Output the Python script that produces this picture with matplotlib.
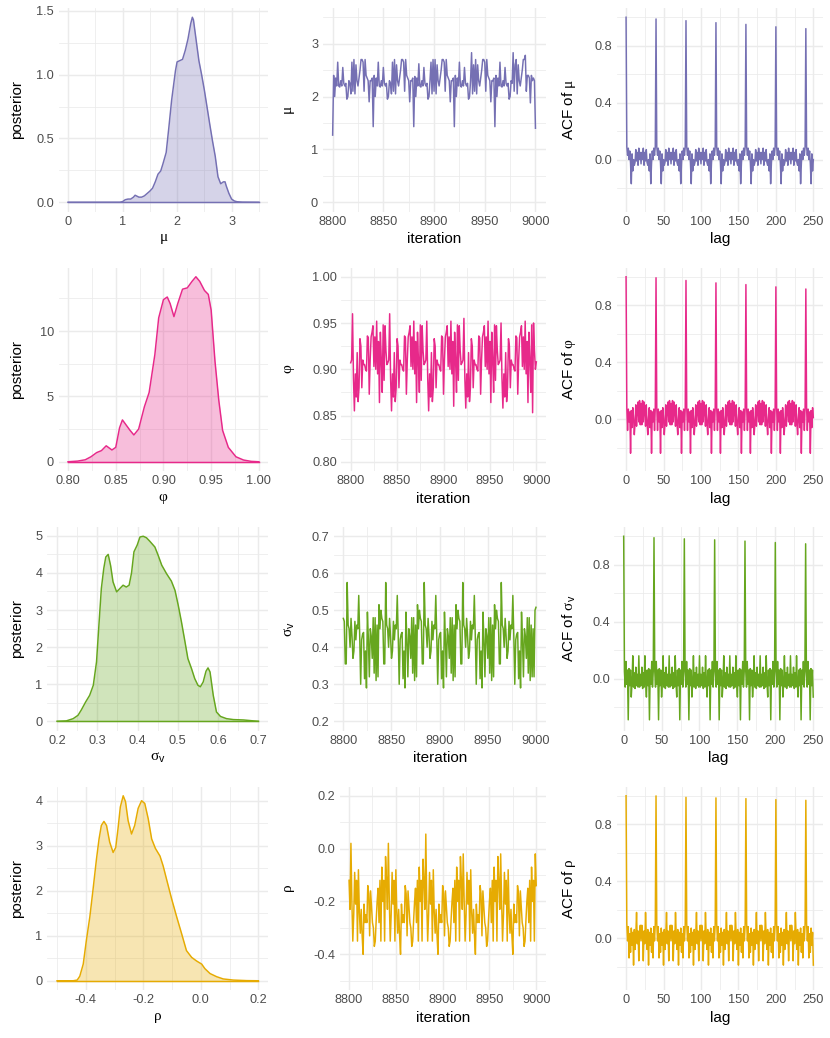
import numpy as np
import matplotlib
matplotlib.use("Agg")
import matplotlib.pyplot as plt
import matplotlib.transforms as mtransforms
from matplotlib.ticker import FixedLocator, AutoMinorLocator

plt.rcParams['font.family'] = ['Liberation Sans', 'DejaVu Sans']
plt.rcParams['mathtext.fontset'] = 'custom'
plt.rcParams['mathtext.rm'] = 'Liberation Serif'
plt.rcParams['mathtext.it'] = 'Liberation Serif'
plt.rcParams['mathtext.sf'] = 'Liberation Sans'
plt.rcParams['mathtext.default'] = 'rm'
plt.rcParams['axes.unicode_minus'] = False

# ---------------- data ----------------
iterations = list(range(8800, 9001))
lags = list(range(0, 251))

# posterior densities
mu_dens_x = [0.0, 0.5, 0.95, 1.0, 1.05, 1.1, 1.15, 1.2, 1.23, 1.3, 1.35, 1.4, 1.5, 1.55, 1.6, 1.65,
             1.7, 1.74, 1.8, 1.85, 1.9, 1.97, 2.0, 2.05, 2.1, 2.15, 2.2, 2.25, 2.28, 2.3, 2.35,
             2.4, 2.45, 2.5, 2.55, 2.6, 2.65, 2.7, 2.75, 2.8, 2.85, 2.88, 2.9, 2.95, 3.0, 3.05,
             3.1, 3.2, 3.5]
mu_dens_y = [0.0, 0.0, 0.0, 0.005, 0.02, 0.025, 0.025, 0.04, 0.055, 0.04, 0.04, 0.05, 0.087, 0.11,
             0.16, 0.22, 0.245, 0.30, 0.39, 0.59, 0.80, 1.03, 1.10, 1.11, 1.12, 1.19, 1.28, 1.40,
             1.45, 1.43, 1.27, 1.11, 1.00, 0.88, 0.745, 0.61, 0.48, 0.36, 0.20, 0.145, 0.16,
             0.16, 0.13, 0.07, 0.025, 0.01, 0.004, 0.001, 0.0]

phi_dens_x = [0.80, 0.81, 0.818, 0.824, 0.83, 0.835, 0.840, 0.846, 0.85, 0.854, 0.857, 0.86,
              0.865, 0.869, 0.874, 0.88, 0.885, 0.891, 0.895, 0.90, 0.904, 0.907, 0.911, 0.915,
              0.92, 0.925, 0.93, 0.934, 0.938, 0.943, 0.947, 0.95, 0.954, 0.958, 0.962, 0.968,
              0.976, 0.984, 0.992, 1.00]
phi_dens_y = [0.0, 0.05, 0.15, 0.38, 0.7, 0.85, 1.22, 0.9, 1.1, 2.6, 3.2, 2.9, 2.4, 2.05, 2.5,
              4.2, 5.3, 8.2, 11.0, 12.4, 12.6, 12.1, 11.1, 12.1, 13.2, 13.3, 13.8, 14.15, 13.8,
              13.1, 12.8, 11.6, 7.7, 4.7, 2.4, 1.1, 0.38, 0.13, 0.03, 0.0]

sig_dens_x = [0.2, 0.223, 0.24, 0.252, 0.26, 0.271, 0.281, 0.29, 0.298, 0.304, 0.31, 0.316,
              0.321, 0.327, 0.333, 0.339, 0.348, 0.356, 0.364, 0.372, 0.379, 0.385, 0.391,
              0.399, 0.406, 0.414, 0.422, 0.43, 0.443, 0.451, 0.46, 0.472, 0.484, 0.493, 0.501,
              0.509, 0.517, 0.525, 0.534, 0.542, 0.55, 0.556, 0.563, 0.57, 0.575, 0.58, 0.588,
              0.596, 0.606, 0.621, 0.638, 0.663, 0.688, 0.7]
sig_dens_y = [0.0, 0.01, 0.07, 0.16, 0.3, 0.52, 0.7, 0.97, 1.6, 2.6, 3.58, 4.12, 4.43, 4.5,
              4.2, 3.76, 3.49, 3.58, 3.67, 3.62, 3.67, 4.0, 4.57, 4.75, 4.97, 4.99, 4.95, 4.86,
              4.7, 4.48, 4.21, 3.98, 3.78, 3.53, 3.13, 2.68, 2.19, 1.69, 1.42, 1.15, 0.97, 0.93,
              1.06, 1.35, 1.44, 1.33, 0.7, 0.25, 0.13, 0.07, 0.045, 0.035, 0.01, 0.0]

rho_dens_x = [-0.5, -0.444, -0.43, -0.421, -0.409, -0.398, -0.386, -0.375, -0.363, -0.354,
              -0.346, -0.337, -0.328, -0.317, -0.305, -0.296, -0.288, -0.28, -0.27, -0.262,
              -0.253, -0.241, -0.23, -0.218, -0.206, -0.195, -0.183, -0.171, -0.158, -0.142,
              -0.131, -0.119, -0.102, -0.084, -0.067, -0.05, -0.032, -0.015, 0.003, 0.014,
              0.032, 0.055, 0.078, 0.113, 0.16, 0.2]
rho_dens_y = [0.0, 0.0, 0.015, 0.1, 0.37, 0.9, 1.42, 2.02, 2.7, 3.15, 3.45, 3.54, 3.45, 3.08,
              2.85, 2.96, 3.38, 3.86, 4.11, 3.98, 3.56, 3.26, 3.45, 3.83, 4.0, 3.94, 3.6, 3.15,
              2.94, 2.77, 2.55, 2.25, 1.83, 1.42, 1.05, 0.67, 0.52, 0.44, 0.37, 0.27, 0.16, 0.09,
              0.04, 0.015, 0.003, 0.0]

# trace of the last 201 iterations
mu_trace = [
    1.27, 2.40, 2.00, 2.35, 2.20, 2.65, 2.20, 2.18, 2.30, 2.20, 2.55, 2.25, 2.20, 2.25, 1.95, 2.00, 2.30, 2.25, 2.05, 2.65,
    2.10, 2.70, 2.05, 2.60, 2.30, 2.20, 2.35, 2.50, 2.70, 2.70, 2.65, 2.10, 2.70, 2.40, 2.35, 2.30, 1.90, 2.30, 2.30, 2.35,
    1.43, 2.40, 2.00, 2.35, 2.20, 2.65, 2.20, 2.18, 2.30, 2.20, 2.55, 2.25, 2.20, 2.25, 1.95, 2.00, 2.30, 2.25, 2.05, 2.65,
    2.10, 2.70, 2.05, 2.60, 2.30, 2.20, 2.35, 2.50, 2.70, 2.70, 2.65, 2.10, 2.70, 2.40, 2.35, 2.30, 1.90, 2.30, 2.30, 2.35,
    1.43, 2.38, 2.00, 2.35, 2.20, 2.62, 2.20, 2.18, 2.30, 2.20, 2.55, 2.25, 2.20, 2.25, 1.95, 2.00, 2.30, 2.65, 2.05, 2.70,
    2.10, 2.70, 2.05, 2.60, 2.30, 2.20, 2.35, 2.50, 2.70, 2.70, 2.65, 2.10, 2.70, 2.40, 2.35, 2.30, 1.90, 2.30, 2.30, 2.35,
    1.43, 2.40, 2.00, 2.35, 2.20, 2.65, 2.20, 2.18, 2.30, 2.20, 2.55, 2.25, 2.20, 2.25, 1.95, 2.00, 2.30, 2.83, 2.05, 2.60,
    2.10, 2.70, 2.05, 2.60, 2.30, 2.20, 2.35, 2.50, 2.70, 2.70, 2.65, 2.10, 2.70, 2.40, 2.35, 2.30, 1.90, 2.30, 2.30, 2.35,
    1.43, 2.40, 2.00, 2.35, 2.20, 2.65, 2.20, 2.18, 2.30, 2.20, 2.55, 2.25, 2.20, 2.25, 1.95, 2.00, 2.30, 2.25, 2.83, 2.10,
    2.60, 2.70, 2.05, 2.60, 2.30, 2.20, 2.35, 2.50, 2.70, 2.70, 2.78, 2.10, 2.40, 2.40, 2.35, 1.88, 2.40, 2.30, 2.35, 2.30,
    1.40]

phi_trace = [
    0.907, 0.910, 0.960, 0.890, 0.855, 0.895, 0.870, 0.918, 0.865, 0.880, 0.933, 0.925, 0.880, 0.910, 0.905, 0.905, 0.900, 0.898, 0.936, 0.934,
    0.873, 0.910, 0.935, 0.940, 0.947, 0.903, 0.935, 0.900, 0.952, 0.895, 0.930, 0.864, 0.940, 0.910, 0.875, 0.948, 0.888, 0.947, 0.920, 0.905,
    0.907, 0.910, 0.960, 0.890, 0.855, 0.895, 0.870, 0.918, 0.865, 0.880, 0.933, 0.925, 0.880, 0.910, 0.905, 0.905, 0.900, 0.898, 0.936, 0.934,
    0.873, 0.910, 0.935, 0.940, 0.947, 0.903, 0.935, 0.900, 0.952, 0.895, 0.930, 0.864, 0.940, 0.910, 0.875, 0.948, 0.888, 0.947, 0.920, 0.905,
    0.907, 0.910, 0.952, 0.890, 0.855, 0.895, 0.870, 0.918, 0.865, 0.880, 0.933, 0.925, 0.880, 0.910, 0.905, 0.905, 0.900, 0.898, 0.936, 0.934,
    0.873, 0.910, 0.935, 0.940, 0.947, 0.903, 0.935, 0.900, 0.952, 0.895, 0.930, 0.860, 0.940, 0.910, 0.875, 0.948, 0.888, 0.947, 0.920, 0.905,
    0.907, 0.910, 0.955, 0.890, 0.858, 0.895, 0.870, 0.918, 0.865, 0.880, 0.933, 0.925, 0.880, 0.910, 0.905, 0.905, 0.900, 0.898, 0.936, 0.934,
    0.873, 0.910, 0.935, 0.940, 0.947, 0.903, 0.935, 0.900, 0.952, 0.895, 0.930, 0.864, 0.940, 0.910, 0.875, 0.948, 0.888, 0.947, 0.920, 0.905,
    0.907, 0.910, 0.950, 0.890, 0.858, 0.895, 0.870, 0.918, 0.865, 0.880, 0.933, 0.925, 0.880, 0.910, 0.905, 0.905, 0.900, 0.898, 0.936, 0.934,
    0.873, 0.910, 0.935, 0.940, 0.947, 0.903, 0.935, 0.900, 0.952, 0.895, 0.930, 0.864, 0.940, 0.910, 0.875, 0.948, 0.853, 0.950, 0.920, 0.900,
    0.908]

sig_trace = [
    0.478, 0.470, 0.355, 0.355, 0.575, 0.460, 0.450, 0.400, 0.478, 0.430, 0.370, 0.390, 0.470, 0.420, 0.460, 0.450, 0.540, 0.430, 0.300, 0.420,
    0.435, 0.440, 0.315, 0.390, 0.290, 0.495, 0.420, 0.320, 0.450, 0.430, 0.370, 0.480, 0.330, 0.480, 0.310, 0.460, 0.320, 0.515, 0.450, 0.500,
    0.478, 0.470, 0.355, 0.355, 0.575, 0.460, 0.450, 0.400, 0.478, 0.430, 0.370, 0.390, 0.470, 0.420, 0.460, 0.450, 0.540, 0.430, 0.300, 0.420,
    0.435, 0.440, 0.315, 0.390, 0.290, 0.495, 0.420, 0.320, 0.450, 0.430, 0.370, 0.480, 0.330, 0.480, 0.310, 0.460, 0.320, 0.515, 0.450, 0.500,
    0.478, 0.470, 0.355, 0.355, 0.575, 0.460, 0.450, 0.400, 0.478, 0.430, 0.370, 0.390, 0.470, 0.420, 0.460, 0.450, 0.540, 0.430, 0.300, 0.420,
    0.435, 0.440, 0.315, 0.390, 0.290, 0.495, 0.420, 0.320, 0.450, 0.430, 0.370, 0.480, 0.330, 0.480, 0.310, 0.460, 0.320, 0.515, 0.450, 0.500,
    0.478, 0.470, 0.355, 0.355, 0.575, 0.460, 0.450, 0.400, 0.478, 0.430, 0.370, 0.390, 0.470, 0.420, 0.460, 0.450, 0.540, 0.430, 0.300, 0.420,
    0.435, 0.440, 0.315, 0.390, 0.290, 0.495, 0.420, 0.320, 0.450, 0.430, 0.370, 0.480, 0.330, 0.480, 0.310, 0.460, 0.320, 0.515, 0.450, 0.500,
    0.478, 0.470, 0.355, 0.355, 0.575, 0.460, 0.450, 0.400, 0.478, 0.430, 0.370, 0.390, 0.470, 0.420, 0.460, 0.450, 0.540, 0.430, 0.300, 0.420,
    0.435, 0.440, 0.315, 0.390, 0.290, 0.495, 0.420, 0.320, 0.450, 0.430, 0.370, 0.480, 0.330, 0.480, 0.310, 0.460, 0.320, 0.450, 0.320, 0.500,
    0.508]

rho_trace = [
    -0.12, -0.23, 0.02, -0.20, -0.35, -0.25, -0.09, -0.21, -0.12, -0.35, -0.08, -0.24, -0.32, -0.23, -0.33, -0.40, -0.21, -0.28, -0.25, -0.28,
    -0.14, -0.17, -0.33, -0.16, -0.22, -0.28, -0.30, -0.37, -0.35, -0.27, -0.20, -0.15, -0.28, -0.12, -0.35, -0.07, -0.20, -0.12, -0.35, -0.03,
    -0.12, -0.23, 0.02, -0.20, -0.35, -0.25, -0.09, -0.21, -0.12, -0.35, -0.08, -0.24, -0.32, -0.23, -0.33, -0.40, -0.21, -0.28, -0.25, -0.28,
    -0.14, -0.17, -0.33, -0.16, -0.22, -0.28, -0.30, -0.37, -0.35, -0.27, -0.20, -0.15, -0.28, -0.12, -0.35, -0.07, -0.20, -0.12, -0.35, -0.04,
    -0.12, -0.23, 0.055, -0.20, -0.35, -0.25, -0.09, -0.21, -0.12, -0.35, -0.08, -0.24, -0.32, -0.23, -0.33, -0.40, -0.21, -0.28, -0.25, -0.28,
    -0.14, -0.17, -0.33, -0.16, -0.22, -0.28, -0.30, -0.37, -0.35, -0.27, -0.20, -0.15, -0.28, -0.12, -0.35, -0.07, -0.20, -0.12, -0.35, -0.03,
    -0.12, -0.23, -0.02, -0.20, -0.35, -0.25, -0.09, -0.21, -0.12, -0.35, -0.08, -0.24, -0.32, -0.23, -0.33, -0.40, -0.21, -0.28, -0.25, -0.28,
    -0.14, -0.17, -0.33, -0.16, -0.22, -0.28, -0.30, -0.37, -0.35, -0.27, -0.20, -0.15, -0.28, -0.12, -0.35, -0.07, -0.20, -0.12, -0.35, -0.03,
    -0.12, -0.23, -0.02, -0.20, -0.35, -0.25, -0.09, -0.21, -0.12, -0.35, -0.08, -0.24, -0.32, -0.23, -0.33, -0.40, -0.21, -0.28, -0.25, -0.28,
    -0.14, -0.17, -0.33, -0.16, -0.22, -0.28, -0.30, -0.37, -0.35, -0.27, -0.20, -0.15, -0.28, -0.12, -0.35, -0.07, -0.20, -0.12, -0.35, -0.02,
    -0.14]

# autocorrelation, lags 0..250
mu_acf = [
    1.000, 0.09, 0.03, 0.08, 0.00, 0.06, -0.03, -0.17, 0.04, -0.08, 0.00, -0.04, -0.02, 0.07, -0.01, 0.05, -0.04, 0.08, 0.00, 0.05, -0.03, 0.05, 0.00, 0.08, -0.04, 0.05, -0.01, 0.07, -0.02, -0.04, 0.00, -0.08, 0.04, -0.17, -0.03, 0.06, 0.00, 0.08, 0.03, 0.09,
    0.988, 0.09, 0.03, 0.08, 0.00, 0.06, -0.03, -0.17, 0.04, -0.08, 0.00, -0.04, -0.02, 0.07, -0.01, 0.05, -0.04, 0.08, 0.00, 0.05, -0.03, 0.05, 0.00, 0.08, -0.04, 0.05, -0.01, 0.07, -0.02, -0.04, 0.00, -0.08, 0.04, -0.17, -0.03, 0.06, 0.00, 0.08, 0.03, 0.09,
    0.976, 0.09, 0.03, 0.08, 0.00, 0.06, -0.03, -0.17, 0.04, -0.08, 0.00, -0.04, -0.02, 0.07, -0.01, 0.05, -0.04, 0.08, 0.00, 0.05, -0.03, 0.05, 0.00, 0.08, -0.04, 0.05, -0.01, 0.07, -0.02, -0.04, 0.00, -0.08, 0.04, -0.17, -0.03, 0.06, 0.00, 0.08, 0.03, 0.09,
    0.962, 0.09, 0.03, 0.08, 0.00, 0.06, -0.03, -0.17, 0.04, -0.08, 0.00, -0.04, -0.02, 0.07, -0.01, 0.05, -0.04, 0.08, 0.00, 0.05, -0.03, 0.05, 0.00, 0.08, -0.04, 0.05, -0.01, 0.07, -0.02, -0.04, 0.00, -0.08, 0.04, -0.17, -0.03, 0.06, 0.00, 0.08, 0.03, 0.09,
    0.950, 0.09, 0.03, 0.08, 0.00, 0.06, -0.03, -0.17, 0.04, -0.08, 0.00, -0.04, -0.02, 0.07, -0.01, 0.05, -0.04, 0.08, 0.00, 0.05, -0.03, 0.05, 0.00, 0.08, -0.04, 0.05, -0.01, 0.07, -0.02, -0.04, 0.00, -0.08, 0.04, -0.17, -0.03, 0.06, 0.00, 0.08, 0.03, 0.09,
    0.933, 0.09, 0.03, 0.08, 0.00, 0.06, -0.03, -0.17, 0.04, -0.08, 0.00, -0.04, -0.02, 0.07, -0.01, 0.05, -0.04, 0.08, 0.00, 0.05, -0.03, 0.05, 0.00, 0.08, -0.04, 0.05, -0.01, 0.07, -0.02, -0.04, 0.00, -0.08, 0.04, -0.17, -0.03, 0.06, 0.00, 0.08, 0.03, 0.09,
    0.920, 0.09, 0.03, 0.08, 0.00, 0.06, -0.03, -0.17, 0.04, -0.08, 0.00]

phi_acf = [
    1.000, 0.08, -0.08, 0.07, -0.02, 0.05, -0.24, 0.06, -0.06, 0.08, 0.01, -0.11, -0.03, 0.10, -0.05, 0.06, 0.12, -0.02, 0.13, -0.04, 0.11, -0.04, 0.13, -0.02, 0.12, 0.06, -0.05, 0.10, -0.03, -0.11, 0.01, 0.08, -0.06, 0.06, -0.24, 0.05, -0.02, 0.07, -0.08, 0.08,
    0.993, 0.08, -0.08, 0.07, -0.02, 0.05, -0.24, 0.06, -0.06, 0.08, 0.01, -0.11, -0.03, 0.10, -0.05, 0.06, 0.12, -0.02, 0.13, -0.04, 0.11, -0.04, 0.13, -0.02, 0.12, 0.06, -0.05, 0.10, -0.03, -0.11, 0.01, 0.08, -0.06, 0.06, -0.24, 0.05, -0.02, 0.07, -0.08, 0.08,
    0.974, 0.08, -0.08, 0.07, -0.02, 0.05, -0.24, 0.06, -0.06, 0.08, 0.01, -0.11, -0.03, 0.10, -0.05, 0.06, 0.12, -0.02, 0.13, -0.04, 0.11, -0.04, 0.13, -0.02, 0.12, 0.06, -0.05, 0.10, -0.03, -0.11, 0.01, 0.08, -0.06, 0.06, -0.24, 0.05, -0.02, 0.07, -0.08, 0.08,
    0.957, 0.08, -0.08, 0.07, -0.02, 0.05, -0.24, 0.06, -0.06, 0.08, 0.01, -0.11, -0.03, 0.10, -0.05, 0.06, 0.12, -0.02, 0.13, -0.04, 0.11, -0.04, 0.13, -0.02, 0.12, 0.06, -0.05, 0.10, -0.03, -0.11, 0.01, 0.08, -0.06, 0.06, -0.24, 0.05, -0.02, 0.07, -0.08, 0.08,
    0.945, 0.08, -0.08, 0.07, -0.02, 0.05, -0.24, 0.06, -0.06, 0.08, 0.01, -0.11, -0.03, 0.10, -0.05, 0.06, 0.12, -0.02, 0.13, -0.04, 0.11, -0.04, 0.13, -0.02, 0.12, 0.06, -0.05, 0.10, -0.03, -0.11, 0.01, 0.08, -0.06, 0.06, -0.24, 0.05, -0.02, 0.07, -0.08, 0.08,
    0.929, 0.08, -0.08, 0.07, -0.02, 0.05, -0.24, 0.06, -0.06, 0.08, 0.01, -0.11, -0.03, 0.10, -0.05, 0.06, 0.12, -0.02, 0.13, -0.04, 0.11, -0.04, 0.13, -0.02, 0.12, 0.06, -0.05, 0.10, -0.03, -0.11, 0.01, 0.08, -0.06, 0.06, -0.24, 0.05, -0.02, 0.07, -0.08, 0.08,
    0.914, 0.08, -0.08, 0.07, -0.02, 0.05, -0.24, 0.06, -0.06, 0.08, 0.01]

sig_acf = [
    1.000, 0.05, -0.06, 0.12, -0.04, 0.06, -0.29, 0.07, -0.05, 0.06, -0.13, -0.03, 0.16, -0.06, 0.04, -0.07, 0.08, -0.05, 0.03, -0.06, 0.16, -0.06, 0.03, -0.05, 0.08, -0.07, 0.04, -0.06, 0.16, -0.03, -0.13, 0.06, -0.05, 0.07, -0.29, 0.06, -0.04, 0.12, -0.06, 0.05,
    0.990, 0.05, -0.06, 0.12, -0.04, 0.06, -0.29, 0.07, -0.05, 0.06, -0.13, -0.03, 0.16, -0.06, 0.04, -0.07, 0.08, -0.05, 0.03, -0.06, 0.16, -0.06, 0.03, -0.05, 0.08, -0.07, 0.04, -0.06, 0.16, -0.03, -0.13, 0.06, -0.05, 0.07, -0.29, 0.06, -0.04, 0.12, -0.06, 0.05,
    0.982, 0.05, -0.06, 0.12, -0.04, 0.06, -0.29, 0.07, -0.05, 0.06, -0.13, -0.03, 0.16, -0.06, 0.04, -0.07, 0.08, -0.05, 0.03, -0.06, 0.16, -0.06, 0.03, -0.05, 0.08, -0.07, 0.04, -0.06, 0.16, -0.03, -0.13, 0.06, -0.05, 0.07, -0.29, 0.06, -0.04, 0.12, -0.06, 0.05,
    0.975, 0.05, -0.06, 0.12, -0.04, 0.06, -0.29, 0.07, -0.05, 0.06, -0.13, -0.03, 0.16, -0.06, 0.04, -0.07, 0.08, -0.05, 0.03, -0.06, 0.16, -0.06, 0.03, -0.05, 0.08, -0.07, 0.04, -0.06, 0.16, -0.03, -0.13, 0.06, -0.05, 0.07, -0.29, 0.06, -0.04, 0.12, -0.06, 0.05,
    0.966, 0.05, -0.06, 0.12, -0.04, 0.06, -0.29, 0.07, -0.05, 0.06, -0.13, -0.03, 0.16, -0.06, 0.04, -0.07, 0.08, -0.05, 0.03, -0.06, 0.16, -0.06, 0.03, -0.05, 0.08, -0.07, 0.04, -0.06, 0.16, -0.03, -0.13, 0.06, -0.05, 0.07, -0.29, 0.06, -0.04, 0.12, -0.06, 0.05,
    0.956, 0.05, -0.06, 0.12, -0.04, 0.06, -0.29, 0.07, -0.05, 0.06, -0.13, -0.03, 0.16, -0.06, 0.04, -0.07, 0.08, -0.05, 0.03, -0.06, 0.16, -0.06, 0.03, -0.05, 0.08, -0.07, 0.04, -0.06, 0.16, -0.03, -0.13, 0.06, -0.05, 0.07, -0.29, 0.06, -0.04, 0.12, -0.06, 0.05,
    0.947, 0.05, -0.06, 0.12, -0.04, 0.06, -0.29, 0.07, -0.05, 0.06, -0.13]

rho_acf = [
    1.000, 0.10, -0.02, 0.08, -0.14, 0.03, -0.10, 0.07, -0.05, 0.04, -0.19, 0.06, -0.08, 0.02, 0.18, -0.04, 0.05, -0.16, 0.03, 0.09, -0.02, 0.09, 0.03, -0.16, 0.05, -0.04, 0.18, 0.02, -0.08, 0.06, -0.19, 0.04, -0.05, 0.07, -0.10, 0.03, -0.14, 0.08, -0.02, 0.10,
    0.999, 0.10, -0.02, 0.08, -0.14, 0.03, -0.10, 0.07, -0.05, 0.04, -0.19, 0.06, -0.08, 0.02, 0.18, -0.04, 0.05, -0.16, 0.03, 0.09, -0.02, 0.09, 0.03, -0.16, 0.05, -0.04, 0.18, 0.02, -0.08, 0.06, -0.19, 0.04, -0.05, 0.07, -0.10, 0.03, -0.14, 0.08, -0.02, 0.10,
    0.989, 0.10, -0.02, 0.08, -0.14, 0.03, -0.10, 0.07, -0.05, 0.04, -0.19, 0.06, -0.08, 0.02, 0.18, -0.04, 0.05, -0.16, 0.03, 0.09, -0.02, 0.09, 0.03, -0.16, 0.05, -0.04, 0.18, 0.02, -0.08, 0.06, -0.19, 0.04, -0.05, 0.07, -0.10, 0.03, -0.14, 0.08, -0.02, 0.10,
    0.985, 0.10, -0.02, 0.08, -0.14, 0.03, -0.10, 0.07, -0.05, 0.04, -0.19, 0.06, -0.08, 0.02, 0.18, -0.04, 0.05, -0.16, 0.03, 0.09, -0.02, 0.09, 0.03, -0.16, 0.05, -0.04, 0.18, 0.02, -0.08, 0.06, -0.19, 0.04, -0.05, 0.07, -0.10, 0.03, -0.14, 0.08, -0.02, 0.10,
    0.980, 0.10, -0.02, 0.08, -0.14, 0.03, -0.10, 0.07, -0.05, 0.04, -0.19, 0.06, -0.08, 0.02, 0.18, -0.04, 0.05, -0.16, 0.03, 0.09, -0.02, 0.09, 0.03, -0.16, 0.05, -0.04, 0.18, 0.02, -0.08, 0.06, -0.19, 0.04, -0.05, 0.07, -0.10, 0.03, -0.14, 0.08, -0.02, 0.10,
    0.973, 0.10, -0.02, 0.08, -0.14, 0.03, -0.10, 0.07, -0.05, 0.04, -0.19, 0.06, -0.08, 0.02, 0.18, -0.04, 0.05, -0.16, 0.03, 0.09, -0.02, 0.09, 0.03, -0.16, 0.05, -0.04, 0.18, 0.02, -0.08, 0.06, -0.19, 0.04, -0.05, 0.07, -0.10, 0.03, -0.14, 0.08, -0.02, 0.10,
    0.968, 0.10, -0.02, 0.08, -0.14, 0.03, -0.10, 0.07, -0.05, 0.04, -0.19]

# parameter names, colours, ranges and ticks
param_labels = [r'$\mu$', r'$\varphi$', r'$\sigma_{\mathsf{v}}$', r'$\rho$']
colours = ['#7570B3', '#E7298A', '#66A61E', '#E6AB02']
param_ranges = [(0.0, 3.5), (0.80, 1.00), (0.2, 0.7), (-0.5, 0.2)]
param_ticks = [[0, 1, 2, 3], [0.80, 0.85, 0.90, 0.95, 1.00],
               [0.2, 0.3, 0.4, 0.5, 0.6, 0.7], [-0.4, -0.2, 0.0, 0.2]]
param_ticklabels = [['0', '1', '2', '3'], ['0.80', '0.85', '0.90', '0.95', '1.00'],
                    ['0.2', '0.3', '0.4', '0.5', '0.6', '0.7'], ['-0.4', '-0.2', '0.0', '0.2']]
dens_ticks = [[0.0, 0.5, 1.0, 1.5], [0, 5, 10], [0, 1, 2, 3, 4, 5], [0, 1, 2, 3, 4]]
dens_ticklabels = [['0.0', '0.5', '1.0', '1.5'], ['0', '5', '10'],
                   ['0', '1', '2', '3', '4', '5'], ['0', '1', '2', '3', '4']]
iter_ticks = [8800, 8850, 8900, 8950, 9000]
lag_ticks = [0, 50, 100, 150, 200, 250]
acf_ticks = [0.0, 0.4, 0.8]
acf_ticklabels = ['0.0', '0.4', '0.8']

dens_x = [mu_dens_x, phi_dens_x, sig_dens_x, rho_dens_x]
dens_y = [mu_dens_y, phi_dens_y, sig_dens_y, rho_dens_y]
traces = [mu_trace, phi_trace, sig_trace, rho_trace]
acfs = [mu_acf, phi_acf, sig_acf, rho_acf]

# ---------------- layout (pixels) ----------------
W, H = 830, 1038
row_top = [8, 267.5, 527, 786.5]
panel_h = 203.5
col_right = [268.4, 545.6, 822.7]
col_left = [[58.5, 58.5, 47, 47], [322.5, 341.4, 333.7, 339.7], [616.7, 616.7, 614.2, 616.7]]
ylab_x = [17, 290, 569]

GRID = '#EBEBEB'
TICKC = '#4D4D4D'


def expand(lo, hi, f=0.05):
    d = (hi - lo) * f
    return lo - d, hi + d


def make_ax(fig, row, col):
    l = col_left[col][row]
    r = col_right[col]
    top = row_top[row]
    ax = fig.add_axes([l / W, 1 - (top + panel_h) / H, (r - l) / W, panel_h / H])
    for s in ax.spines.values():
        s.set_visible(False)
    ax.set_axisbelow(True)
    ax.tick_params(which='both', length=0, labelsize=9.2, labelcolor=TICKC, pad=3.2)
    return ax


def finish(ax, fig, col, xlabel, ylabel):
    ax.xaxis.set_minor_locator(AutoMinorLocator(2))
    ax.yaxis.set_minor_locator(AutoMinorLocator(2))
    ax.grid(which='major', color=GRID, lw=1.07)
    ax.grid(which='minor', color=GRID, lw=0.55)
    ax.set_xlabel(xlabel, fontsize=11, labelpad=3.0)
    ax.set_ylabel(ylabel, fontsize=11, va='center')
    tr = mtransforms.blended_transform_factory(fig.transFigure, ax.transAxes)
    ax.yaxis.set_label_coords(ylab_x[col] / W, 0.5, transform=tr)


fig = plt.figure(figsize=(W / 100, H / 100), dpi=100)
fig.patch.set_facecolor('white')

for i in range(4):
    c = colours[i]
    lo, hi = param_ranges[i]

    # density
    ax = make_ax(fig, i, 0)
    dx, dy = dens_x[i], dens_y[i]
    ax.fill_between(dx, 0, dy, color=c, alpha=0.3, lw=0)
    ax.plot(dx, dy, color=c, lw=1.07)
    ax.plot([dx[0], dx[-1]], [0, 0], color=c, lw=1.07)
    ax.set_xlim(*expand(lo, hi))
    ax.set_ylim(*expand(0, max(dy)))
    ax.xaxis.set_major_locator(FixedLocator(param_ticks[i]))
    ax.set_xticklabels(param_ticklabels[i])
    ax.yaxis.set_major_locator(FixedLocator(dens_ticks[i]))
    ax.set_yticklabels(dens_ticklabels[i])
    finish(ax, fig, 0, param_labels[i], 'posterior')

    # trace
    ax = make_ax(fig, i, 1)
    ax.plot(iterations, traces[i], color=c, lw=1.07)
    ax.set_xlim(*expand(8800, 9000))
    ax.set_ylim(*expand(lo, hi))
    ax.xaxis.set_major_locator(FixedLocator(iter_ticks))
    ax.set_xticklabels([str(t) for t in iter_ticks])
    ax.yaxis.set_major_locator(FixedLocator(param_ticks[i]))
    ax.set_yticklabels(param_ticklabels[i])
    finish(ax, fig, 1, 'iteration', param_labels[i])

    # autocorrelation
    ax = make_ax(fig, i, 2)
    ax.plot(lags, acfs[i], color=c, lw=1.07)
    ax.set_xlim(*expand(0, 250))
    ax.set_ylim(*expand(-0.3, 1.0))
    ax.xaxis.set_major_locator(FixedLocator(lag_ticks))
    ax.set_xticklabels([str(t) for t in lag_ticks])
    ax.yaxis.set_major_locator(FixedLocator(acf_ticks))
    ax.set_yticklabels(acf_ticklabels)
    finish(ax, fig, 2, 'lag', 'ACF of ' + param_labels[i])

fig.savefig('out.png', dpi=100, facecolor='white')
